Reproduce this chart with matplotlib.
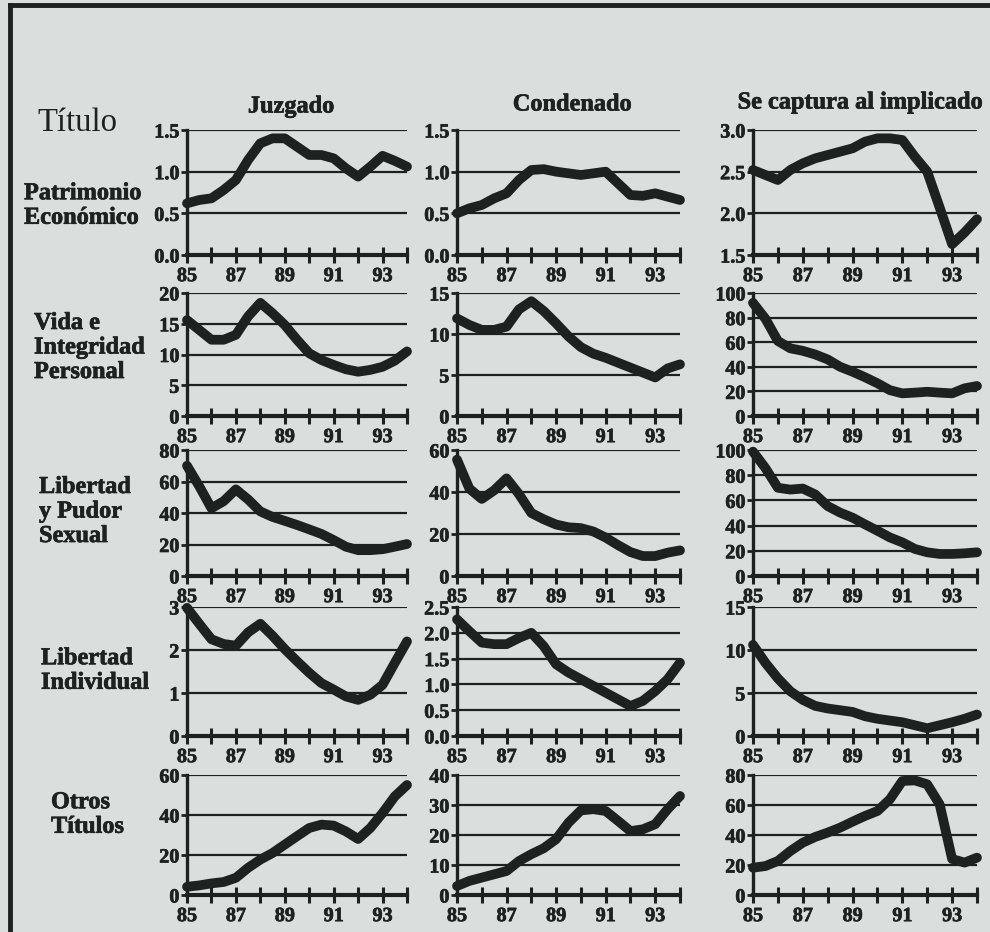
import matplotlib.pyplot as plt
import matplotlib.patheffects as pe
from matplotlib.lines import Line2D

plt.rcParams['font.family'] = ['Liberation Serif', 'DejaVu Serif']

W, H = 990, 932
PAPER = '#d8dfdc'
INK = '#1c221f'
HEAVY = [pe.withStroke(linewidth=0.5, foreground=INK)]

years = [85, 85.5, 86, 86.5, 87, 87.5, 88, 88.5, 89, 89.5,
         90, 90.5, 91, 91.5, 92, 92.5, 93, 93.5, 94]
year_ticks = [85, 86, 87, 88, 89, 90, 91, 92, 93, 94]
year_labels = ['85', '', '87', '', '89', '', '91', '', '93', '']

col_names = ['Juzgado', 'Condenado', 'Se captura al implicado']
row_names = ['Patrimonio\nEconómico', 'Vida e\nIntegridad\nPersonal',
             'Libertad\ny Pudor\nSexual', 'Libertad\nIndividual', 'Otros\nTítulos']

# Patrimonio Económico
pat_juzgado = [0.62, 0.66, 0.68, 0.78, 0.90, 1.14, 1.34, 1.40, 1.40, 1.30,
               1.20, 1.20, 1.16, 1.04, 0.94, 1.06, 1.19, 1.13, 1.06]
pat_condenado = [0.50, 0.56, 0.60, 0.68, 0.74, 0.90, 1.02, 1.03, 1.00, 0.98,
                 0.96, 0.98, 1.00, 0.86, 0.72, 0.71, 0.74, 0.70, 0.66]
pat_captura = [2.52, 2.46, 2.40, 2.52, 2.60, 2.66, 2.70, 2.74, 2.78, 2.86,
               2.90, 2.90, 2.88, 2.68, 2.50, 2.07, 1.63, 1.77, 1.93]

# Vida e Integridad Personal
vida_juzgado = [15.6, 14.0, 12.4, 12.4, 13.2, 16.2, 18.4, 16.7, 14.8, 12.4,
                10.2, 9.1, 8.3, 7.6, 7.2, 7.5, 8.0, 9.0, 10.5]
vida_condenado = [11.9, 11.1, 10.5, 10.5, 10.9, 13.0, 14.0, 12.8, 11.3, 9.7,
                  8.4, 7.6, 7.1, 6.5, 5.9, 5.3, 4.7, 5.8, 6.3]
vida_captura = [92, 79, 61, 55, 53, 50, 46, 40, 36, 31.5,
                26.6, 21, 18.4, 19, 19.7, 19, 18.4, 22.5, 24.4]

# Libertad y Pudor Sexual
pudor_juzgado = [70, 57, 43, 47.5, 55, 48.6, 41, 37.5, 35, 32.4,
                 29.6, 26.7, 22.8, 18.6, 16.4, 16.4, 17, 18.6, 20.3]
pudor_condenado = [55.4, 41.6, 36.7, 40.8, 46.5, 39, 30, 27, 24.5, 23.2,
                   22.8, 21.2, 18.3, 14.7, 11.4, 9.5, 9.5, 11.1, 12.2]
pudor_captura = [98.7, 85.6, 70, 68.6, 69.4, 64.7, 55.5, 50.3, 46.3, 41,
                 35.9, 30.6, 26.7, 21.5, 18.8, 17.5, 17.5, 18, 18.8]

# Libertad Individual
indiv_juzgado = [2.98, 2.61, 2.25, 2.14, 2.10, 2.41, 2.61, 2.33, 2.02, 1.74,
                 1.47, 1.23, 1.08, 0.92, 0.84, 0.96, 1.19, 1.70, 2.20]
indiv_condenado = [2.26, 2.03, 1.81, 1.78, 1.78, 1.90, 2.00, 1.74, 1.39, 1.23,
                   1.10, 0.97, 0.84, 0.71, 0.58, 0.68, 0.87, 1.10, 1.42]
indiv_captura = [10.6, 8.5, 6.7, 5.2, 4.2, 3.5, 3.2, 3.0, 2.8, 2.3,
                 2.0, 1.8, 1.6, 1.25, 0.9, 1.25, 1.6, 2.0, 2.5]

# Otros Títulos
otros_juzgado = [4.1, 4.8, 5.8, 6.5, 8.6, 13.6, 17.7, 21, 25.2, 29.4,
                 33.5, 35.2, 34.7, 31.8, 28, 33.5, 41, 49.3, 55]
otros_condenado = [3.0, 4.7, 5.8, 6.9, 8.0, 11.3, 13.6, 15.6, 18.6, 24.1,
                   28.2, 28.6, 28.0, 24.7, 21.3, 21.9, 23.6, 28.6, 33]
otros_captura = [18.2, 19.3, 22.7, 29.3, 34.9, 38.7, 41.6, 44.9, 48.9, 52.7,
                 56, 63.8, 76, 76.4, 73.8, 60.4, 24, 21.6, 24.9]

series = [
    [pat_juzgado, pat_condenado, pat_captura],
    [vida_juzgado, vida_condenado, vida_captura],
    [pudor_juzgado, pudor_condenado, pudor_captura],
    [indiv_juzgado, indiv_condenado, indiv_captura],
    [otros_juzgado, otros_condenado, otros_captura],
]

yticks = [
    [[0, 0.5, 1.0, 1.5], [0, 0.5, 1.0, 1.5], [1.5, 2.0, 2.5, 3.0]],
    [[0, 5, 10, 15, 20], [0, 5, 10, 15], [0, 20, 40, 60, 80, 100]],
    [[0, 20, 40, 60, 80], [0, 20, 40, 60], [0, 20, 40, 60, 80, 100]],
    [[0, 1, 2, 3], [0, 0.5, 1.0, 1.5, 2.0, 2.5], [0, 5, 10, 15]],
    [[0, 20, 40, 60], [0, 10, 20, 30, 40], [0, 20, 40, 60, 80]],
]
ydecimals = [[1, 1, 1], [0, 0, 0], [0, 0, 0], [0, 1, 0], [0, 0, 0]]

# panel frames in pixels: columns (x0, x1), rows (top, bottom)
col_px = [(187, 407), (457, 680), (753, 977)]
row_px = [(130, 255), (293, 416), (450, 576), (607, 736), (775, 895)]

fig = plt.figure(figsize=(W / 100, H / 100), dpi=100, facecolor=PAPER)


def fx(px):
    return px / W


def fy(py):
    return 1 - py / H


for r, (top, bot) in enumerate(row_px):
    for c, (x0, x1) in enumerate(col_px):
        ax = fig.add_axes([fx(x0), fy(bot), (x1 - x0) / W, (bot - top) / H])
        ax.set_facecolor('none')
        ticks = yticks[r][c]
        lo, hi = ticks[0], ticks[-1]
        for t in ticks[1:]:
            ax.axhline(t, color=INK, lw=1.6, zorder=1)
        ax.plot(years, series[r][c], color=INK, lw=7,
                solid_joinstyle='round', solid_capstyle='round',
                clip_on=False, zorder=3)
        ax.set_xlim(85, 94)
        ax.set_ylim(lo, hi)
        for s in ['top', 'right']:
            ax.spines[s].set_visible(False)
        ax.spines['left'].set_linewidth(2.4)
        ax.spines['bottom'].set_linewidth(3)
        ax.spines['left'].set_color(INK)
        ax.spines['bottom'].set_color(INK)
        ax.set_xticks(year_ticks)
        ax.set_xticklabels(year_labels)
        d = ydecimals[r][c]
        ax.set_yticks(ticks)
        ax.set_yticklabels([f'{t:.{d}f}' for t in ticks])
        ax.tick_params(axis='x', direction='inout', length=12, width=2.2,
                       color=INK, pad=2, labelsize=14.5)
        ax.tick_params(axis='y', direction='out', length=4, width=2,
                       color=INK, pad=1.5, labelsize=14.5)
        for lab in ax.get_xticklabels() + ax.get_yticklabels():
            lab.set_fontweight('bold')
            lab.set_color(INK)
            lab.set_path_effects(HEAVY)

# column headings
for name, (cx, cy) in zip(col_names, [(291, 107), (572, 105), (860, 103)]):
    fig.text(fx(cx), fy(cy), name, ha='center', va='center',
             fontsize=17.5, fontweight='bold', color=INK, path_effects=HEAVY)

fig.text(fx(37), fy(123), 'Título', ha='left', va='center',
         fontsize=23.5, color=INK)

# row headings
row_pos = [(24, 206), (34, 348), (39, 512), (41, 671), (51, 815)]
for name, (lx, ly) in zip(row_names, row_pos):
    fig.text(fx(lx), fy(ly), name, ha='left', va='center', fontsize=17.5,
             fontweight='bold', color=INK, linespacing=1.22, path_effects=HEAVY)

# page frame
fig.add_artist(Line2D([fx(10), fx(10)], [fy(5), 0], color=INK, lw=3.5))
fig.add_artist(Line2D([fx(10), 1], [fy(5), fy(5)], color=INK, lw=3.5))

fig.savefig('out.png', dpi=100, facecolor=PAPER)
